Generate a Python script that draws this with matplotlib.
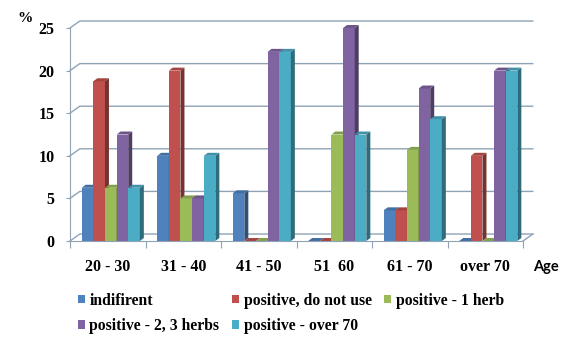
import numpy as np
import matplotlib.pyplot as plt
from matplotlib.patches import Polygon, Patch
from matplotlib.colors import to_rgb

# survey data: share of answers (%) per age group
ages = ['20 - 30', '31 - 40', '41 - 50', '51  60', '61 - 70', 'over 70']
series = ['indifirent', 'positive, do not use', 'positive - 1 herb',
          'positive - 2, 3 herbs', 'positive - over 70']
indifirent = [6.25, 10, 5.6, 0, 3.6, 0]
do_not_use = [18.75, 20, 0, 0, 3.6, 10]
one_herb = [6.25, 5, 0, 12.5, 10.7, 0]
two_three_herbs = [12.5, 5, 22.2, 25, 17.9, 20]
over_70 = [6.25, 10, 22.2, 12.5, 14.3, 20]
values = [indifirent, do_not_use, one_herb, two_three_herbs, over_70]
colors = ['#4F81BD', '#C0504D', '#9BBB59', '#8064A2', '#4BACC6']

def shade(c, f):
    r, g, b = to_rgb(c)
    return (r * f, g * f, b * f)

fig = plt.figure(figsize=(5.62, 3.37), dpi=100)
ax = fig.add_axes([70 / 562, 96 / 337, 453 / 562, 213 / 337])
ax.set_xlim(0, 6)
ax.set_ylim(0, 25)

grid_c = '#8FA3B5'
wdx, wdy = 0.13, 0.82    # depth of the walls (data units)
bdx, bdy = 0.053, 0.35   # depth of each column

# back wall gridlines with the side-wall diagonals
for v in range(0, 26, 5):
    ax.plot([0, wdx, 6 + wdx], [v, v + wdy, v + wdy], color=grid_c, lw=1.0,
            clip_on=False, zorder=1)
# floor right edge
ax.plot([6, 6 + wdx], [0, wdy], color=grid_c, lw=1.0, clip_on=False, zorder=1)

w = 0.154
x = np.arange(6) + 0.5 + 0.04
z = 2
for i, (vals, c) in enumerate(zip(values, colors)):
    xs = x + (i - 2) * w - w / 2
    for x0, v in zip(xs, vals):
        ax.bar(x0, v, width=w, align='edge', color=c, lw=0, zorder=z,
               clip_on=False)
        side = Polygon([(x0 + w, 0), (x0 + w + bdx, bdy), (x0 + w + bdx, v + bdy),
                        (x0 + w, v)], closed=True, fc=shade(c, 0.62), lw=0,
                       zorder=z, clip_on=False)
        top = Polygon([(x0, v), (x0 + bdx, v + bdy), (x0 + w + bdx, v + bdy),
                       (x0 + w, v)], closed=True, fc=shade(c, 0.85), lw=0,
                      zorder=z, clip_on=False)
        ax.add_patch(side)
        ax.add_patch(top)
        z += 1

for s in ['top', 'right']:
    ax.spines[s].set_visible(False)
for s in ['left', 'bottom']:
    ax.spines[s].set_color(grid_c)
    ax.spines[s].set_zorder(50)

tick_font = dict(family='Liberation Serif', weight='bold', size=11.5)
ax.set_yticks(range(0, 26, 5))
ax.set_yticklabels([str(v) for v in range(0, 26, 5)], fontdict=tick_font)
ax.tick_params(axis='y', length=3, color=grid_c, pad=8)
ax.set_xticks(range(7))
ax.set_xticklabels([])
ax.tick_params(axis='x', which='major', length=5, color=grid_c)
ax.set_xticks(np.arange(6) + 0.5, minor=True)
ax.set_xticklabels(ages, minor=True, fontdict=tick_font)
ax.tick_params(axis='x', which='minor', length=0, pad=13)

fig.text(17 / 562, 1 - 19 / 337, '%', family='Liberation Serif', weight='bold',
         size=11, ha='left', va='center')
fig.text(533 / 562, 1 - 267 / 337, 'Age', family='Lato', weight='bold',
         size=10.5, ha='left', va='center')

handles = [Patch(fc=c, lw=0) for c in colors]
order = [0, 3, 1, 4, 2]
fig.legend([handles[k] for k in order], [series[k] for k in order],
           loc='upper left', bbox_to_anchor=(65 / 562, 1 - 280 / 337), ncol=3,
           frameon=False, handlelength=0.45, handleheight=0.45, handletextpad=0.3,
           columnspacing=0.8, labelspacing=0.6, borderpad=0.3,
           prop=dict(family='Liberation Serif', weight='bold', size=11.3))

fig.savefig('out.png', dpi=100)
